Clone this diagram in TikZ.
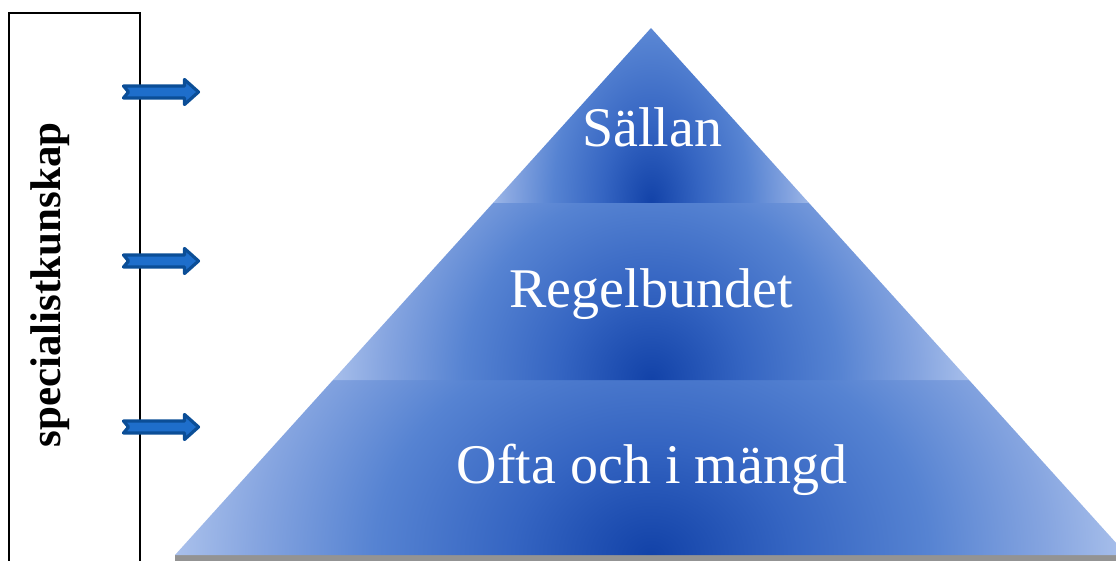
\documentclass[tikz,border=0pt]{standalone}
\usepackage{fontspec}
\setmainfont{Liberation Serif}
\usepackage{tikz}
\usetikzlibrary{positioning}

\definecolor{pyrdark}{HTML}{1242A8}
\definecolor{pyrdeep}{HTML}{3565C2}
\definecolor{pyrmid}{HTML}{5683D2}
\definecolor{pyrsoft}{HTML}{86A5E0}
\definecolor{pyrlight}{HTML}{B2C7EE}
\definecolor{arrowedge}{HTML}{0B4E97}
\definecolor{arrowfill}{HTML}{1E6ECB}

% the path box covers the middle 50bp of the shading
\pgfdeclareradialshading{bandglow}{\pgfpoint{0bp}{0bp}}{%
  color(0bp)=(pyrdark); color(7bp)=(pyrdeep); color(14bp)=(pyrmid);
  color(20bp)=(pyrsoft); color(25bp)=(pyrlight); color(50bp)=(pyrlight)}

\tikzset{notcharrow/.pic={
  \filldraw[ArrowStyle] (0,-6) -- (61,-6) -- (61,-12.5) -- (75,0)
    -- (61,12.5) -- (61,6) -- (0,6) -- (5,0) -- cycle;}}

\begin{document}
\begin{tikzpicture}[x=1pt,y=-1pt]
		\tikzstyle{ArrowStyle}=[draw=arrowedge,fill=arrowfill,line width=3.2pt,line join=round]
		\tikzstyle{BoxLine}=[draw=black,line width=1.1pt]
		\tikzstyle{BandText}=[text=white,font=\fontsize{56}{60}\selectfont,anchor=base]
		\tikzstyle{SideText}=[text=black,font=\fontsize{43}{48}\selectfont\bfseries,anchor=base,rotate=90]
		\useasboundingbox (0,0) rectangle (1116,561);
		% pyramid corners
		\coordinate (apex) at (651,28);
		\coordinate (tl) at (493,203);
		\coordinate (tr) at (809,203);
		\coordinate (ml) at (333,380);
		\coordinate (mr) at (969,380);
		\coordinate (bl) at (175,555);
		\coordinate (br) at (1127,555);
		% shadow under the base
		\fill[gray!85] (175,555) rectangle (1116,561);
		\begin{scope}
			\clip (ml) -- (mr) -- (br) -- (bl) -- cycle;
			\shade[shading=bandglow] (156,155) rectangle (1146,955);
		\end{scope}
		\begin{scope}
			\clip (tl) -- (tr) -- (mr) -- (ml) -- cycle;
			\shade[shading=bandglow] (316,40) rectangle (986,720);
		\end{scope}
		\begin{scope}
			\clip (apex) -- (tr) -- (tl) -- cycle;
			\shade[shading=bandglow] (476,-87) rectangle (826,493);
		\end{scope}
		\node[BandText] (sallan) at (652,147) {Sällan};
		\node[BandText] (regel) at (651,307) {Regelbundet};
		\node[BandText] (ofta) at (652,483) {Ofta och i mängd};
		% side box
		\draw[BoxLine] (9,561) -- (9,13) -- (140,13) -- (140,561);
		\node[SideText] (spec) at (60,285) {specialistkunskap};
		\foreach \y [count=\i] in {92,261,427}
			\coordinate (tail\i) at (123.5,\y);
		\foreach \i in {1,2,3}
			\pic at (tail\i) {notcharrow};
	\end{tikzpicture}
\end{document}
